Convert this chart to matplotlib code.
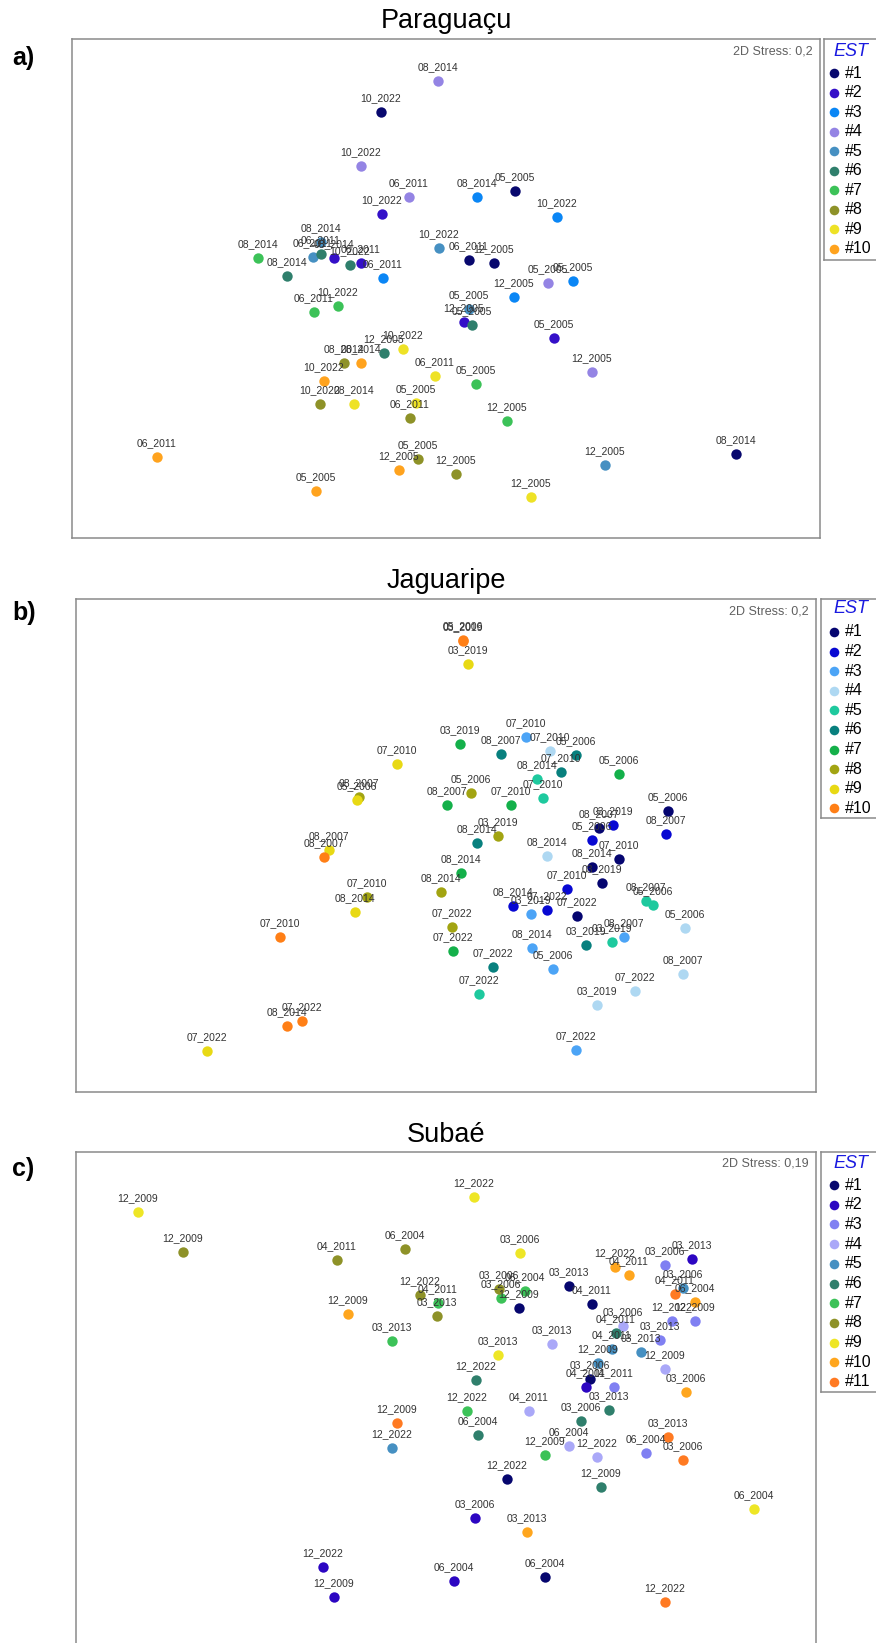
import matplotlib
matplotlib.use("Agg")
import matplotlib.pyplot as plt

plt.rcParams['font.family'] = ['Liberation Sans', 'DejaVu Sans']

W, H = 876, 1643

# ---------------- a) Paraguaçu ----------------
a_site = [1, 1, 1, 1, 1,
          2, 2, 2, 2, 2,
          3, 3, 3, 3, 3,
          4, 4, 4, 4, 4,
          5, 5, 5, 5, 5,
          6, 6, 6, 6, 6,
          7, 7, 7, 7, 7,
          8, 8, 8, 8, 8,
          9, 9, 9, 9, 9,
          10, 10, 10, 10, 10]
a_sample = ['10_2022', '05_2005', '06_2011', '12_2005', '08_2014',
            '10_2022', '08_2014', '06_2011', '12_2005', '05_2005',
            '08_2014', '10_2022', '06_2011', '05_2005', '12_2005',
            '08_2014', '10_2022', '06_2011', '05_2005', '12_2005',
            '08_2014', '06_2011', '10_2022', '05_2005', '12_2005',
            '06_2011', '10_2022', '08_2014', '12_2005', '05_2005',
            '08_2014', '06_2011', '10_2022', '05_2005', '12_2005',
            '08_2014', '10_2022', '06_2011', '05_2005', '12_2005',
            '10_2022', '06_2011', '08_2014', '05_2005', '12_2005',
            '08_2014', '10_2022', '06_2011', '12_2005', '05_2005']
a_x = [381, 515, 469, 494, 736,
       382, 334, 361, 464, 554,
       477, 557, 383, 573, 514,
       438, 361, 409, 548, 592,
       321, 313, 439, 469, 605,
       321, 350, 287, 384, 472,
       258, 314, 338, 476, 507,
       344, 320, 410, 418, 456,
       403, 435, 354, 416, 531,
       361, 324, 157, 399, 316]
a_y = [112, 191, 260, 263, 454,
       214, 258, 263, 322, 338,
       197, 217, 278, 281, 297,
       81, 166, 197, 283, 372,
       242, 257, 248, 309, 465,
       254, 265, 276, 353, 325,
       258, 312, 306, 384, 421,
       363, 404, 418, 459, 474,
       349, 376, 404, 403, 497,
       363, 381, 457, 470, 491]
a_colors = ['#08086e', '#3410c8', '#0a86f5', '#9484e4', '#4690c2',
            '#2f7f6c', '#3cc258', '#8e9228', '#eee226', '#ffa31e']

# ---------------- b) Jaguaripe ----------------
b_site = [1] * 6 + [2] * 6 + [3] * 6 + [4] * 6 + [5] * 6 + \
         [6] * 6 + [7] * 6 + [8] * 6 + [9] * 6 + [10] * 6
b_sample = ['05_2006', '08_2007', '07_2010', '08_2014', '03_2019', '07_2022',
            '08_2007', '03_2019', '05_2006', '07_2010', '08_2014', '07_2022',
            '07_2010', '03_2019', '08_2014', '08_2007', '05_2006', '07_2022',
            '07_2010', '08_2014', '05_2006', '08_2007', '07_2022', '03_2019',
            '08_2014', '07_2010', '08_2007', '05_2006', '03_2019', '07_2022',
            '08_2007', '05_2006', '07_2010', '08_2014', '03_2019', '07_2022',
            '03_2019', '05_2006', '08_2007', '07_2010', '08_2014', '07_2022',
            '08_2007', '05_2006', '03_2019', '07_2010', '08_2014', '07_2022',
            '03_2019', '07_2010', '05_2006', '08_2007', '08_2014', '07_2022',
            '05_2006', '03_2019', '08_2007', '07_2010', '08_2014', '07_2022']
b_x = [668, 599, 619, 592, 602, 577,
       666, 613, 592, 567, 513, 547,
       526, 531, 532, 624, 553, 576,
       550, 547, 685, 683, 635, 597,
       537, 543, 646, 653, 612, 479,
       501, 576, 561, 477, 586, 493,
       460, 619, 447, 511, 461, 453,
       359, 471, 498, 367, 441, 452,
       468, 397, 357, 329, 355, 207,
       463, 463, 324, 280, 287, 302]
b_y = [811, 828, 859, 867, 883, 916,
       834, 825, 840, 889, 906, 910,
       737, 914, 948, 937, 969, 1050,
       751, 856, 928, 974, 991, 1005,
       779, 798, 901, 905, 942, 994,
       754, 755, 772, 843, 945, 967,
       744, 774, 805, 805, 873, 951,
       797, 793, 836, 897, 892, 927,
       664, 764, 800, 850, 912, 1051,
       640, 641, 857, 937, 1026, 1021]
b_colors = ['#050570', '#0808d2', '#4ca4f6', '#aed8f2', '#1ec99e',
            '#08807e', '#14b04a', '#a2a412', '#e8d914', '#ff7f16']

# ---------------- c) Subaé ----------------
c_site = [1] * 6 + [2] * 6 + [3] * 6 + [4] * 6 + [5] * 5 + \
         [6] * 6 + [7] * 6 + [8] * 6 + [9] * 5 + [10] * 6 + [11] * 5
c_sample = ['12_2009', '03_2013', '04_2011', '03_2006', '12_2022', '06_2004',
            '03_2013', '04_2011', '03_2006', '06_2004', '12_2022', '12_2009',
            '03_2006', '12_2022', '12_2009', '03_2013', '04_2011', '06_2004',
            '03_2006', '03_2013', '12_2009', '04_2011', '06_2004', '12_2022',
            '03_2006', '04_2011', '03_2013', '12_2009', '12_2022',
            '04_2011', '12_2022', '03_2013', '03_2006', '06_2004', '12_2009',
            '04_2011', '03_2006', '06_2004', '03_2013', '12_2022', '12_2009',
            '12_2009', '06_2004', '04_2011', '03_2006', '12_2022', '03_2013',
            '12_2009', '12_2022', '03_2006', '03_2013', '06_2004',
            '12_2009', '12_2022', '04_2011', '06_2004', '03_2006', '03_2013',
            '04_2011', '12_2009', '03_2013', '03_2006', '12_2022']
c_x = [519, 569, 592, 590, 507, 545,
       692, 586, 475, 454, 323, 334,
       665, 672, 695, 660, 614, 646,
       623, 552, 665, 529, 569, 597,
       683, 612, 641, 598, 392,
       616, 476, 609, 581, 478, 601,
       438, 501, 525, 392, 467, 545,
       183, 405, 337, 499, 420, 437,
       138, 474, 520, 498, 754,
       348, 615, 629, 695, 686, 527,
       675, 397, 668, 683, 665]
c_y = [1308, 1286, 1304, 1379, 1479, 1577,
       1259, 1387, 1518, 1581, 1567, 1597,
       1265, 1321, 1321, 1340, 1387, 1453,
       1326, 1344, 1369, 1411, 1446, 1457,
       1288, 1349, 1352, 1363, 1448,
       1333, 1380, 1410, 1421, 1435, 1487,
       1303, 1298, 1291, 1341, 1411, 1455,
       1252, 1249, 1260, 1289, 1295, 1316,
       1212, 1197, 1253, 1355, 1509,
       1314, 1267, 1275, 1302, 1392, 1532,
       1294, 1423, 1437, 1460, 1602]
c_colors = ['#06066e', '#2c06c2', '#8080f2', '#aaa8f8', '#4690c2',
            '#2f7f6c', '#3cc258', '#8e9228', '#eee626', '#ffa61e', '#ff7a22']


fig = plt.figure(figsize=(W / 100, H / 100), dpi=100)


def px_axes(l, t, r, b):
    ax = fig.add_axes([l / W, 1 - b / H, (r - l) / W, (b - t) / H])
    ax.set_xlim(l, r)
    ax.set_ylim(b, t)
    ax.set_xticks([])
    ax.set_yticks([])
    for s in ax.spines.values():
        s.set_color('#8a8a8a')
        s.set_linewidth(1.1)
    return ax


def panel(box, leg, title, title_base, tag, tag_base, stress,
          site, sample, xs, ys, colors, est_y, row0, step):
    l, t, r, b = box
    ax = px_axes(l, t, r, b)
    for k, col in enumerate(colors, start=1):
        px = [x for x, s in zip(xs, site) if s == k]
        py = [y for y, s in zip(ys, site) if s == k]
        ax.scatter(px, py, s=56, color=col, linewidths=0, zorder=2)
    for x, y, lab in zip(xs, ys, sample):
        ax.annotate(lab, (x, y), xytext=(0, 9.8), textcoords='offset points',
                    ha='center', va='center', fontsize=7.5, color='#333333',
                    zorder=3)
    ax.text(0.99, 1 - 12 / (b - t), stress, transform=ax.transAxes,
            ha='right', va='center', fontsize=9, color='#606060')

    fig.text(446 / W, 1 - title_base / H, title, ha='center',
             va='baseline', fontsize=19.5)
    fig.text(12 / W, 1 - tag_base / H, tag, ha='left', va='baseline',
             fontsize=18, fontweight='bold')

    # legend box
    ll, lt, lb = leg
    lg = px_axes(ll, lt, 882, lb)
    lg.text(851, est_y, 'EST', ha='center', va='center', fontsize=13,
            style='italic', color='#1a1ae0')
    for i, col in enumerate(colors):
        yy = row0 + i * step
        lg.scatter([834], [yy], s=48, color=col, linewidths=0)
        lg.text(845, yy, f'#{i + 1}', ha='left', va='center', fontsize=11.5)


panel((72, 39, 820, 538), (824, 39, 260), 'Paraguaçu', 28, 'a)', 65,
      '2D Stress: 0,2', a_site, a_sample, a_x, a_y, a_colors,
      51, 73, 19.55)
panel((76, 599, 816, 1092), (821, 599, 818), 'Jaguaripe', 588, 'b)', 620,
      '2D Stress: 0,2', b_site, b_sample, b_x, b_y, b_colors,
      609, 632, 19.6)
panel((76, 1152, 816, 1665), (821, 1152, 1392), 'Subaé', 1142, 'c)', 1176,
      '2D Stress: 0,19', c_site, c_sample, c_x, c_y, c_colors,
      1163, 1185, 19.7)

fig.savefig('out.png', dpi=100)
